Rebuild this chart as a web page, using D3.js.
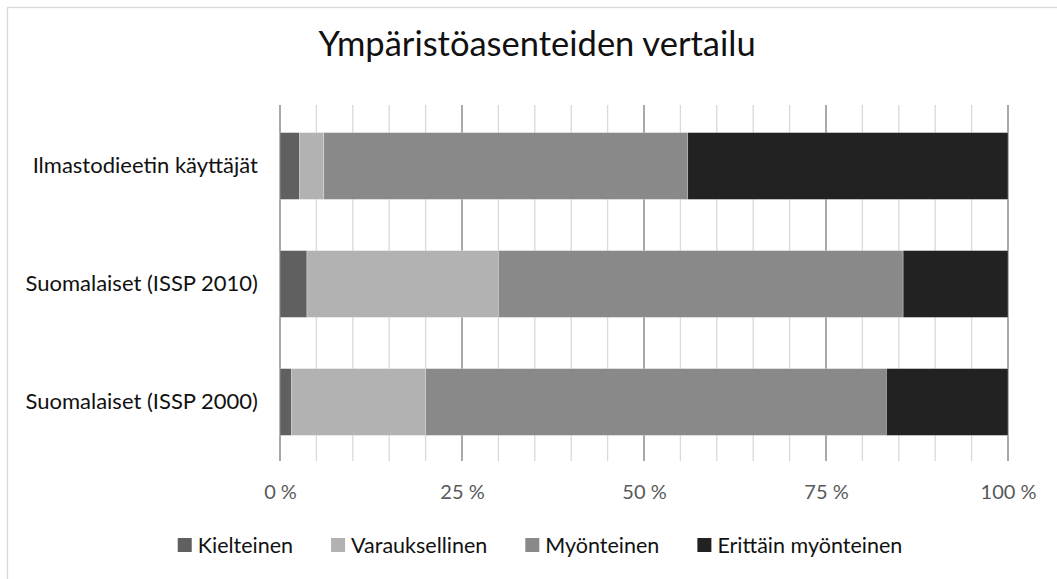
<html>
  <head>
    <meta charset="utf-8">
    <script src="https://d3js.org/d3.v7.min.js"></script>
    <style>
      body { margin: 0; background: #fff; }
      text { font-family: Lato, "Open Sans", sans-serif; }
    </style>
  </head>
  <body>
    <div id="my_dataviz"></div>
  </body>

  <script>
    // data (percent of each group)
    const categories = ['Ilmastodieetin käyttäjät', 'Suomalaiset (ISSP 2010)', 'Suomalaiset (ISSP 2000)']
    const seriesNames = ['Kielteinen', 'Varauksellinen', 'Myönteinen', 'Erittäin myönteinen']
    const kielteinen = [2.7, 3.7, 1.6]
    const varauksellinen = [3.3, 26.3, 18.4]
    const myonteinen = [50.0, 55.6, 63.3]
    const erittainMyonteinen = [44.0, 14.4, 16.7]
    const tickValues = [0, 25, 50, 75, 100]
    const colors = ['#606060', '#b2b2b2', '#898989', '#222222']

    const W = 1057, H = 579
    const margin = {top: 107, right: 49, bottom: 118, left: 280}

    const svg = d3.select('#my_dataviz')
      .append('svg')
        .attr('width', W)
        .attr('height', H)

    // chart border
    svg.append('rect')
      .attr('x', 7.5).attr('y', 7.5)
      .attr('width', 1100).attr('height', 700)
      .attr('fill', 'none')
      .attr('stroke', '#d9d9d9')
      .attr('stroke-width', 1.3)

    svg.append('text')
      .attr('x', 537)
      .attr('y', 56)
      .attr('text-anchor', 'middle')
      .attr('font-size', '34.5px')
      .attr('fill', '#111')
      .text('Ympäristöasenteiden vertailu')

    // table for the stack
    const table = categories.map((c, i) => ({
      cat: c,
      'Kielteinen': kielteinen[i],
      'Varauksellinen': varauksellinen[i],
      'Myönteinen': myonteinen[i],
      'Erittäin myönteinen': erittainMyonteinen[i]
    }))
    const stacked = d3.stack().keys(seriesNames)(table)

    const x = d3.scaleLinear()
      .domain([0, 100])
      .range([margin.left, W - margin.right])

    const y = d3.scaleBand()
      .domain(categories)
      .range([margin.top, H - margin.bottom])
      .paddingInner(0.434)
      .paddingOuter(0.217)

    const gridTop = margin.top - 2, gridBottom = H - margin.bottom

    // minor gridlines every 5 %
    svg.append('g')
      .selectAll('line')
      .data(d3.range(0, 101, 5).filter(v => v % 25 != 0))
      .join('line')
        .attr('x1', d => x(d)).attr('x2', d => x(d))
        .attr('y1', gridTop).attr('y2', gridBottom)
        .attr('stroke', '#d9d9d9')
        .attr('stroke-width', 1.3)

    // major gridlines
    svg.append('g')
      .selectAll('line')
      .data(tickValues)
      .join('line')
        .attr('x1', d => x(d)).attr('x2', d => x(d))
        .attr('y1', gridTop).attr('y2', gridBottom)
        .attr('stroke', '#7a7a7a')
        .attr('stroke-width', 1.3)

    // bars
    svg.append('g')
      .selectAll('g')
      .data(stacked)
      .join('g')
        .attr('fill', (d, i) => colors[i])
      .selectAll('rect')
      .data(d => d)
      .join('rect')
        .attr('x', d => x(d[0]))
        .attr('y', d => y(d.data.cat))
        .attr('width', d => x(d[1]) - x(d[0]))
        .attr('height', y.bandwidth())
        .attr('stroke', '#fff')
        .attr('stroke-opacity', 0.35)
        .attr('stroke-width', 0.8)

    // x axis labels
    const xAxis = d3.axisBottom(x)
      .tickValues(tickValues)
      .tickSize(0)
      .tickPadding(0)
      .tickFormat(d => d + ' %')
    const gx = svg.append('g')
      .attr('transform', `translate(0, ${gridBottom + 38})`)
      .call(xAxis)
    gx.select('.domain').remove()
    gx.selectAll('text')
      .attr('font-family', 'Lato, sans-serif')
      .attr('font-size', '20px')
      .attr('fill', '#595959')
      .attr('dy', 0)

    // category labels
    const yAxis = d3.axisLeft(y).tickSize(0).tickPadding(22)
    const gy = svg.append('g')
      .attr('transform', `translate(${margin.left}, 0)`)
      .call(yAxis)
    gy.select('.domain').remove()
    gy.selectAll('text')
      .attr('font-family', 'Lato, sans-serif')
      .attr('font-size', '22px')
      .attr('fill', '#111')

    // legend
    const legend = svg.append('g')
    const items = legend.selectAll('g')
      .data(seriesNames)
      .join('g')
    items.append('rect')
      .attr('width', 14).attr('height', 14)
      .attr('y', -7)
      .attr('fill', (d, i) => colors[i])
    items.append('text')
      .attr('x', 20)
      .attr('dy', '0.35em')
      .attr('font-size', '21.5px')
      .attr('fill', '#111')
      .text(d => d)
    let pos = 0
    items.each(function() {
      const w = 20 + d3.select(this).select('text').node().getComputedTextLength()
      d3.select(this).attr('transform', `translate(${pos}, 0)`)
      pos += w + 38
    })
    const total = pos - 38
    legend.attr('transform', `translate(${540 - total / 2}, 545)`)
  </script>
</html>
